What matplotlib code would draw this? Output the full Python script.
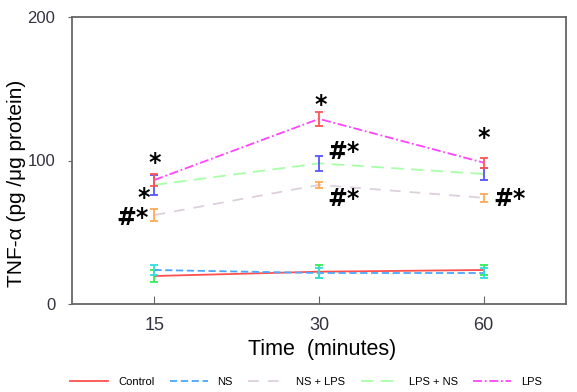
import numpy as np
import matplotlib
matplotlib.use('Agg')
import matplotlib.pyplot as plt

times = ['15', '30', '60']
control = [19.5, 22.5, 23.7]
ns = [23.7, 21.6, 21.6]
ns_lps = [62, 83, 74]
lps_ns = [83, 98, 90.6]
lps = [86.4, 129, 98.5]

err_control = [4.5, 4.5, 3.5]
err_ns = [3.5, 3.5, 3.5]
err_ns_lps = [4.5, 2, 2.6]
err_lps_ns = [7, 5.2, 4.5]
err_lps = [4, 4.9, 3.5]

plt.rcParams['font.family'] = ['Liberation Sans', 'DejaVu Sans']

fig = plt.figure(figsize=(5.77, 3.92), dpi=100)
ax = fig.add_axes([72/577, 1-304/392, 494/577, 287/392])
x = np.arange(1, 4)

series = [
    ('Control', control, err_control, '#ff5050', '-', '#33ee55'),
    ('NS', ns, err_ns, '#4da6ff', (0, (4, 2)), '#33dddd'),
    ('NS + LPS', ns_lps, err_ns_lps, '#dcd0dc', (0, (6, 5)), '#ffaa55'),
    ('LPS + NS', lps_ns, err_lps_ns, '#a8ffa8', (0, (7, 4)), '#5555ff'),
    ('LPS', lps, err_lps, '#ff44ff', (0, (5, 1.5, 1, 1.5)), '#ff5555'),
]
handles = []
for name, vals, err, col, ls, ecol in series:
    h, = ax.plot(x, vals, color=col, linestyle=ls, lw=1.3, label=name)
    handles.append(h)
    ax.errorbar(x, vals, yerr=err, fmt='none', ecolor=ecol, elinewidth=1.3,
                capsize=3, capthick=1.3)

# significance marks
marks = [(1.0, 98, '*'), (0.935, 74, '*'), (0.865, 60, '#*'),
         (2.15, 106, '#*'), (2.15, 73, '#*'), (2.01, 139, '*'),
         (3.0, 116, '*'), (3.16, 73, '#*')]
for mx, my, txt in marks:
    ax.text(mx, my, txt, fontsize=17, fontweight='bold', ha='center',
            va='center', family='DejaVu Sans')

ax.set_xlim(0.5, 3.5)
ax.set_ylim(0, 200)
ax.set_xticks(x)
ax.set_xticklabels(times, fontsize=13, color='#333340')
ax.set_yticks([0, 100, 200])
ax.set_yticklabels(['0', '100', '200'], fontsize=12, color='#333340')
for s in ax.spines.values():
    s.set_color('#666666')
    s.set_linewidth(1.3)
ax.tick_params(axis='x', direction='in', length=6, color='#666666', pad=9)
ax.tick_params(axis='y', direction='out', length=3, color='#666666', pad=9)

fig.text(322/577, 1-350/392, 'Time  (minutes)', fontsize=15.5, ha='center',
         va='center')
fig.text(17/577, 1-183/392, 'TNF-\u03b1 (pg /\u03bcg protein)', fontsize=15,
         rotation=90, ha='center', va='center')

fig.legend(handles=handles, loc='center', bbox_to_anchor=(306/577, 1-382/392),
           ncol=5, frameon=False, fontsize=8, handlelength=3.4,
           columnspacing=1.4, handletextpad=0.9)

plt.savefig('out.png', dpi=100)
